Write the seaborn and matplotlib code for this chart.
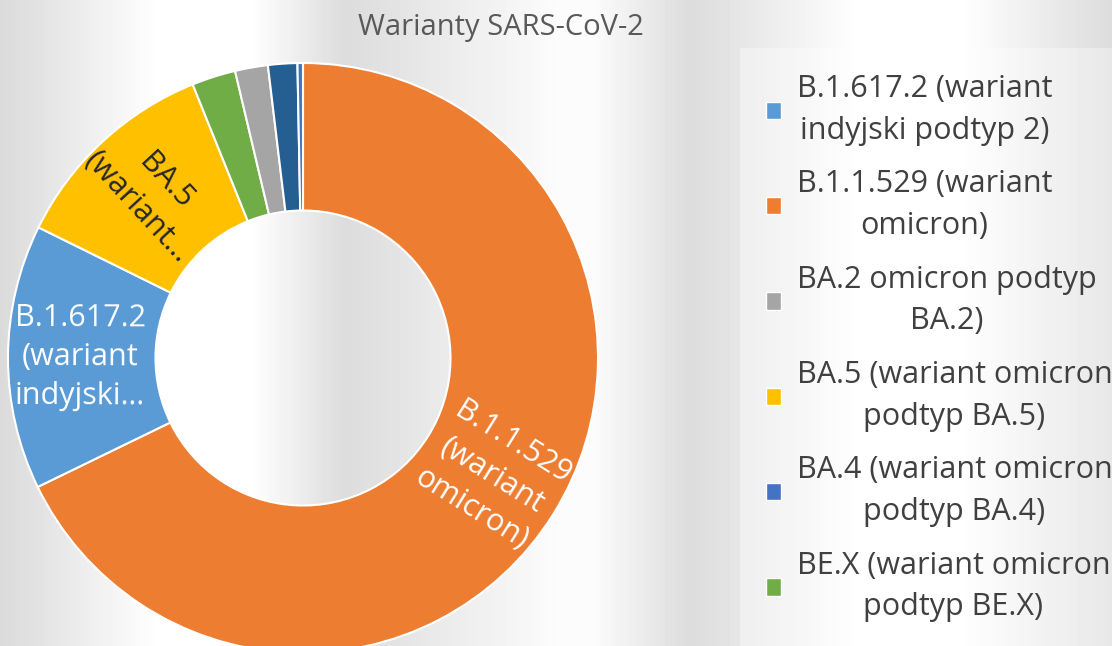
import textwrap
import numpy as np
import matplotlib
matplotlib.use("Agg")
import matplotlib.pyplot as plt
from matplotlib.patches import Patch, Rectangle
import seaborn as sns

# udział wariantów (%), kolejność jak w legendzie
variants = [
    "B.1.617.2 (wariant indyjski podtyp 2)",
    "B.1.1.529 (wariant omicron)",
    "BA.2 omicron podtyp BA.2)",
    "BA.5 (wariant omicron podtyp BA.5)",
    "BA.4 (wariant omicron podtyp BA.4)",
    "BE.X (wariant omicron podtyp BE.X)",
    "BQ.1 (wariant omicron podtyp BQ.1)",
]
shares = [14.5, 67.8, 1.8, 11.6, 0.3, 2.4, 1.6]
colors = ["#5B9BD5", "#ED7D31", "#A5A5A5", "#FFC000", "#4472C4", "#70AD47", "#255E91"]

# etykiety na wycinkach (obcięte jak w Excelu)
slice_labels = ["B.1.617.2\n(wariant\nindyjski…", "B.1.1.529\n(wariant\nomicron)", "",
                "BA.5\n(wariant…", "", "", ""]
label_colors = ["white", "white", None, "#262626", None, None, None]

# kolejność wycinków zgodnie z ruchem wskazówek zegara od godz. 12
pie_order = [1, 0, 3, 5, 2, 6, 4]

title = "Warianty SARS-CoV-2"

sns.set_theme(style="white")
plt.rcParams['font.family'] = ['Open Sans', 'DejaVu Sans']

W, H = 1112, 646
fig = plt.figure(figsize=(W / 100, H / 100), dpi=100)

# tło z gradientem (jak w arkuszu)
bg = fig.add_axes([0, 0, 1, 1], zorder=0)
stops_x = [0, 160, 250, 345, 560, 590, 690, 860, 960, W]
stops_v = [218, 255, 255, 220, 252, 252, 220, 255, 255, 220]
grad = np.interp(np.arange(W), stops_x, stops_v) / 255
bg.imshow(np.tile(grad, (2, 1)), cmap='gray', vmin=0, vmax=1,
          aspect='auto', extent=[0, 1, 0, 1])
bg.axis('off')

# pole legendy
fig.add_artist(Rectangle((740 / W, 0), 1 - 740 / W, (H - 48) / H,
                         transform=fig.transFigure, facecolor='white',
                         alpha=0.35, edgecolor='none', zorder=1))

# wykres pierścieniowy
cx, cy, R = 303, 358, 295
ax = fig.add_axes([(cx - R) / W, (H - cy - R) / H, 2 * R / W, 2 * R / H], zorder=2)
wedges, _ = ax.pie([shares[i] for i in pie_order],
                   colors=[colors[i] for i in pie_order],
                   startangle=90, counterclock=False, radius=1,
                   wedgeprops=dict(width=0.5, edgecolor='white', linewidth=1.5))
for w in wedges:
    w.set_clip_on(False)
ax.set_xlim(-1, 1)
ax.set_ylim(-1, 1)
ax.set_aspect('equal')

for w, i in zip(wedges, pie_order):
    if not slice_labels[i]:
        continue
    mid = (w.theta1 + w.theta2) / 2
    rot = ((mid + 90) % 180) - 90
    r = 0.755
    ax.text(r * np.cos(np.deg2rad(mid)), r * np.sin(np.deg2rad(mid)), slice_labels[i],
            ha='center', va='center', rotation=rot, rotation_mode='anchor',
            multialignment='center', linespacing=1.4, color=label_colors[i],
            fontsize=22, clip_on=False)

fig.text(501 / W, 1 - 28 / H, title, ha='center', va='center',
         fontsize=21, color='#595959')

handles = [Patch(facecolor=c, edgecolor='white', linewidth=1) for c in colors]
labels = [textwrap.fill(v, 21) for v in variants]
leg = fig.legend(handles, labels, loc='upper left',
                 bbox_to_anchor=(766 / W, 1 - 74 / H), frameon=False,
                 fontsize=22, handlelength=0.5, handleheight=0.5,
                 handletextpad=0.5, labelspacing=0.78, borderpad=0,
                 borderaxespad=0, labelcolor='#404040')
leg.set_zorder(3)
for t in leg.get_texts():
    t.set_multialignment('center')
    t.set_linespacing(1.5)

fig.savefig("out.png", dpi=100)
